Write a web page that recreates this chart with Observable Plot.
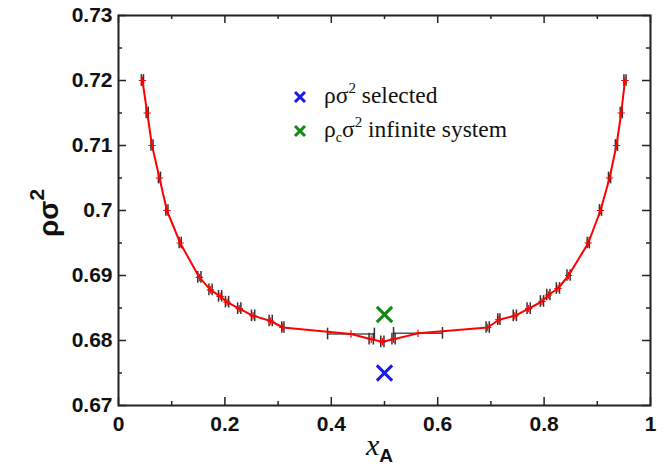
<!DOCTYPE html>
<html><head><meta charset="utf-8">
<script src="https://cdn.jsdelivr.net/npm/d3@7"></script>
<script src="https://cdn.jsdelivr.net/npm/@observablehq/plot@0.6"></script>
<style>body{margin:0;background:#fff} #chart{width:666px;height:467px}</style>
</head><body><div id="chart"></div>
<script>
// composition x_A
const xA = [0.045,0.054,0.063,0.077,0.091,0.116,0.152,0.173,0.191,0.204,0.227,0.253,0.286,0.309,0.437,0.475,0.496,0.517,0.563,0.694,0.715,0.745,0.771,0.796,0.808,0.826,0.846,0.883,0.906,0.923,0.936,0.945,0.952];
// density rho sigma^2
const rho = [0.720,0.715,0.710,0.705,0.700,0.695,0.6897,0.6878,0.6868,0.6859,0.6849,0.6838,0.6830,0.6820,0.6810,0.6802,0.6798,0.6802,0.6811,0.6820,0.6832,0.6838,0.6849,0.6860,0.6870,0.6880,0.6900,0.6950,0.700,0.705,0.710,0.715,0.720];
// horizontal error on x_A
const xErr = [0.002,0.002,0.002,0.002,0.002,0.002,0.003,0.003,0.003,0.003,0.003,0.003,0.003,0.002,0.044,0.004,0.003,0.003,0.046,0.003,0.002,0.003,0.003,0.003,0.003,0.003,0.003,0.002,0.002,0.002,0.002,0.002,0.002];
// special markers
const markerLabel = ["ρσ² selected", "ρcσ² infinite system"];
const markerX = [0.5, 0.5];
const markerY = [0.675, 0.684];
// ticks
const xTicks = [0, 0.2, 0.4, 0.6, 0.8, 1];
const xMinor = [0.1, 0.3, 0.5, 0.7, 0.9];
const yTicks = [0.67, 0.68, 0.69, 0.7, 0.71, 0.72, 0.73];
const yMinor = [0.675, 0.685, 0.695, 0.705, 0.715, 0.725];

const points = xA.map((x, i) => ({x, y: rho[i], e: xErr[i]}));
const markers = markerX.map((x, i) => ({x, y: markerY[i], s: markerLabel[i]}));
const markerColors = ["#1a1aee", "#128a12"];

const W = 666, H = 467, mL = 118, mR = 16, mT = 15, mB = 62;
const fh = H - mT - mB, fw = W - mL - mR;
const capH = 0.0009;

const tickStyle = {stroke: "#222", strokeWidth: 1.5};
const plot = Plot.plot({
  width: W, height: H, marginLeft: mL, marginRight: mR, marginTop: mT, marginBottom: mB,
  x: {domain: [0, 1]},
  y: {domain: [0.67, 0.73]},
  color: {domain: markerLabel, range: markerColors},
  style: {fontFamily: "'Liberation Sans', Arial, sans-serif", background: "#fff", color: "#111"},
  marks: [
    // inward ticks
    Plot.tickX(xTicks, {x: d => d, insetTop: fh - 8, ...tickStyle}),
    Plot.tickX(xTicks, {x: d => d, insetBottom: fh - 8, ...tickStyle}),
    Plot.tickX(xMinor, {x: d => d, insetTop: fh - 4, ...tickStyle}),
    Plot.tickX(xMinor, {x: d => d, insetBottom: fh - 4, ...tickStyle}),
    Plot.tickY(yTicks, {y: d => d, insetRight: fw - 8, ...tickStyle}),
    Plot.tickY(yTicks, {y: d => d, insetLeft: fw - 8, ...tickStyle}),
    Plot.tickY(yMinor, {y: d => d, insetRight: fw - 4, ...tickStyle}),
    Plot.tickY(yMinor, {y: d => d, insetLeft: fw - 4, ...tickStyle}),
    Plot.axisX({ticks: xTicks, tickSize: 0, tickPadding: 11, tickFormat: d => String(d), label: null, fontSize: 21, fontWeight: "bold"}),
    Plot.axisY({ticks: yTicks, tickSize: 0, tickPadding: 6, tickFormat: d => String(d), label: null, fontSize: 21, fontWeight: "bold"}),
    // error bars
    Plot.ruleY(points, {y: "y", x1: d => d.x - d.e, x2: d => d.x + d.e, stroke: "#555", strokeWidth: 1.5}),
    Plot.ruleX(points, {x: d => d.x - d.e, y1: d => d.y - capH, y2: d => d.y + capH, stroke: "#333", strokeWidth: 1.5}),
    Plot.ruleX(points, {x: d => d.x + d.e, y1: d => d.y - capH, y2: d => d.y + capH, stroke: "#333", strokeWidth: 1.5}),
    Plot.line(points, {x: "x", y: "y", stroke: "#ff0000", strokeWidth: 2}),
    Plot.dot(points, {x: "x", y: "y", symbol: "plus", r: 2.5, stroke: "#ff0000", strokeWidth: 1.2}),
    Plot.dot(markers, {x: "x", y: "y", symbol: "times", r: 7, stroke: "s", strokeWidth: 3}),
    Plot.frame({stroke: "#222", strokeWidth: 2})
  ]
});
document.getElementById("chart").appendChild(plot);

const svg = d3.select(plot);
// y label
const yl = svg.append("text").attr("transform", "translate(58,213) rotate(-90)")
  .attr("text-anchor", "middle").attr("font-family", "'Liberation Sans', Arial, sans-serif")
  .attr("font-weight", "bold").attr("font-size", 28).attr("fill", "#111");
yl.append("tspan").text("ρσ");
yl.append("tspan").attr("dy", -14).attr("font-size", 21).text("2");
// x label
const xl = svg.append("text").attr("x", 366).attr("y", 455).attr("fill", "#111").attr("text-anchor", "start");
xl.append("tspan").attr("font-family", "'Liberation Serif', 'Times New Roman', serif").attr("font-style", "italic").attr("font-size", 30).text("x");
xl.append("tspan").attr("dy", 7).attr("font-family", "'Liberation Sans', Arial, sans-serif").attr("font-weight", "bold").attr("font-size", 19).text("A");

// legend
const leg = svg.append("g").attr("font-family", "'Liberation Serif', 'Times New Roman', serif").attr("font-size", 23.5).attr("fill", "#111").attr("text-anchor", "start");
const legY = [97, 131];
markerLabel.forEach((lab, i) => {
  const cy = legY[i];
  const g = leg.append("g");
  g.append("path").attr("d", `M${295},${cy - 5}L${305},${cy + 5}M${295},${cy + 5}L${305},${cy - 5}`)
    .attr("stroke", markerColors[i]).attr("stroke-width", 3).attr("fill", "none");
  const t = g.append("text").attr("x", 324).attr("y", cy + 6).attr("text-anchor", "start");
  if (i === 0) {
    t.append("tspan").text("ρσ");
    t.append("tspan").attr("dy", -10).attr("font-size", 15).text("2");
    t.append("tspan").attr("dy", 10).text(" selected");
  } else {
    t.append("tspan").text("ρ");
    t.append("tspan").attr("dy", 5).attr("font-size", 14).text("c");
    t.append("tspan").attr("dy", -5).text("σ");
    t.append("tspan").attr("dy", -10).attr("font-size", 15).text("2");
    t.append("tspan").attr("dy", 10).text(" infinite system");
  }
});
</script>
</body></html>
